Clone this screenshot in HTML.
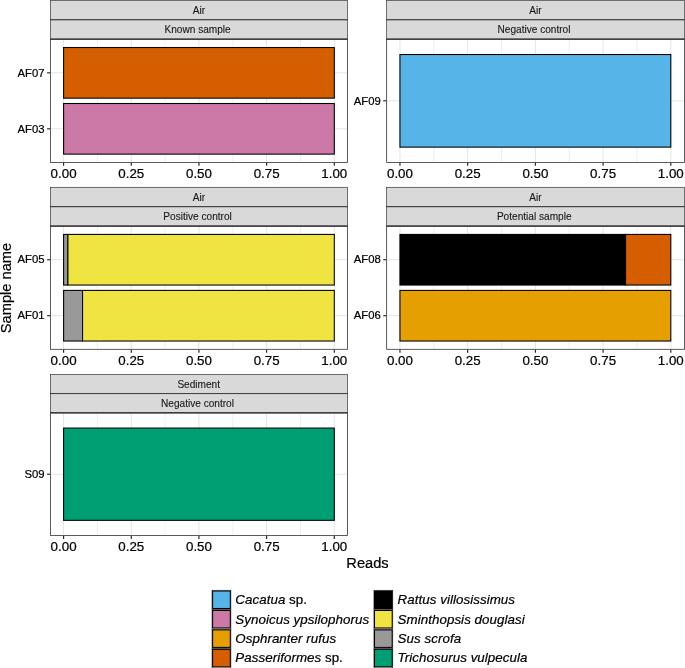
<!DOCTYPE html>
<html><head><meta charset="utf-8"><title>Reads per sample</title>
<style>html,body{margin:0;padding:0;background:#fff;overflow:hidden}svg{display:block}</style></head>
<body>
<svg width="685" height="668" viewBox="0 0 685 668" font-family="'Liberation Sans', sans-serif">
<rect width="685" height="668" fill="#fff"/>
<style>text{stroke:#000;stroke-width:0.22px;stroke-linejoin:round}text.st{stroke:#1a1a1a;stroke-width:0.12px}</style>
<rect x="50.50" y="0.40" width="297.00" height="19.43" fill="#D9D9D9" stroke="#333" stroke-width="0.68"/>
<text class="st" x="198.99" y="14.00" font-size="10.1" text-anchor="middle" fill="#1a1a1a">Air</text>
<rect x="50.50" y="19.82" width="297.00" height="19.43" fill="#D9D9D9" stroke="#333" stroke-width="0.68"/>
<text class="st" x="197.64" y="33.42" font-size="10.1" text-anchor="middle" fill="#1a1a1a">Known sample</text>
<rect x="50.50" y="39.25" width="297.00" height="123.15" fill="#fff"/>
<line x1="97.44" x2="97.44" y1="39.25" y2="162.40" stroke="#E6E6E6" stroke-width="0.65"/>
<line x1="165.11" x2="165.11" y1="39.25" y2="162.40" stroke="#E6E6E6" stroke-width="0.65"/>
<line x1="232.79" x2="232.79" y1="39.25" y2="162.40" stroke="#E6E6E6" stroke-width="0.65"/>
<line x1="300.46" x2="300.46" y1="39.25" y2="162.40" stroke="#E6E6E6" stroke-width="0.65"/>
<line x1="63.60" x2="63.60" y1="39.25" y2="162.40" stroke="#E4E4E4" stroke-width="1.0"/>
<line x1="131.28" x2="131.28" y1="39.25" y2="162.40" stroke="#E4E4E4" stroke-width="1.0"/>
<line x1="198.95" x2="198.95" y1="39.25" y2="162.40" stroke="#E4E4E4" stroke-width="1.0"/>
<line x1="266.62" x2="266.62" y1="39.25" y2="162.40" stroke="#E4E4E4" stroke-width="1.0"/>
<line x1="334.30" x2="334.30" y1="39.25" y2="162.40" stroke="#E4E4E4" stroke-width="1.0"/>
<line x1="50.50" x2="347.50" y1="72.84" y2="72.84" stroke="#E4E4E4" stroke-width="1.0"/>
<line x1="50.50" x2="347.50" y1="128.81" y2="128.81" stroke="#E4E4E4" stroke-width="1.0"/>
<rect x="63.60" y="47.52" width="270.70" height="50.63" fill="#D55E00" stroke="#000" stroke-width="1.07" stroke-linejoin="miter"/>
<line x1="47.10" x2="50.10" y1="72.84" y2="72.84" stroke="#222" stroke-width="1.15"/>
<text x="44.60" y="76.54" font-size="11.3" text-anchor="end" fill="#000">AF07</text>
<rect x="63.60" y="103.50" width="270.70" height="50.63" fill="#CC79A7" stroke="#000" stroke-width="1.07" stroke-linejoin="miter"/>
<line x1="47.10" x2="50.10" y1="128.81" y2="128.81" stroke="#222" stroke-width="1.15"/>
<text x="44.60" y="132.51" font-size="11.3" text-anchor="end" fill="#000">AF03</text>
<rect x="50.50" y="39.25" width="297.00" height="123.15" fill="none" stroke="#333" stroke-width="0.8"/>
<line x1="50.15" x2="347.85" y1="39.15" y2="39.15" stroke="#333" stroke-width="1.25"/>
<line x1="50.15" x2="347.85" y1="19.82" y2="19.82" stroke="#333" stroke-width="0.6"/>
<line x1="63.60" x2="63.60" y1="162.80" y2="165.80" stroke="#222" stroke-width="1.15"/>
<text x="63.60" y="178.15" font-size="13.33" text-anchor="middle" fill="#000">0.00</text>
<line x1="131.28" x2="131.28" y1="162.80" y2="165.80" stroke="#222" stroke-width="1.15"/>
<text x="131.28" y="178.15" font-size="13.33" text-anchor="middle" fill="#000">0.25</text>
<line x1="198.95" x2="198.95" y1="162.80" y2="165.80" stroke="#222" stroke-width="1.15"/>
<text x="198.95" y="178.15" font-size="13.33" text-anchor="middle" fill="#000">0.50</text>
<line x1="266.62" x2="266.62" y1="162.80" y2="165.80" stroke="#222" stroke-width="1.15"/>
<text x="266.62" y="178.15" font-size="13.33" text-anchor="middle" fill="#000">0.75</text>
<line x1="334.30" x2="334.30" y1="162.80" y2="165.80" stroke="#222" stroke-width="1.15"/>
<text x="334.30" y="178.15" font-size="13.33" text-anchor="middle" fill="#000">1.00</text>
<rect x="386.65" y="0.40" width="297.75" height="19.43" fill="#D9D9D9" stroke="#333" stroke-width="0.68"/>
<text class="st" x="535.52" y="14.00" font-size="10.1" text-anchor="middle" fill="#1a1a1a">Air</text>
<rect x="386.65" y="19.82" width="297.75" height="19.43" fill="#D9D9D9" stroke="#333" stroke-width="0.68"/>
<text class="st" x="534.00" y="33.42" font-size="10.1" text-anchor="middle" fill="#1a1a1a">Negative control</text>
<rect x="386.65" y="39.25" width="297.75" height="123.15" fill="#fff"/>
<line x1="433.81" x2="433.81" y1="39.25" y2="162.40" stroke="#E6E6E6" stroke-width="0.65"/>
<line x1="501.52" x2="501.52" y1="39.25" y2="162.40" stroke="#E6E6E6" stroke-width="0.65"/>
<line x1="569.23" x2="569.23" y1="39.25" y2="162.40" stroke="#E6E6E6" stroke-width="0.65"/>
<line x1="636.94" x2="636.94" y1="39.25" y2="162.40" stroke="#E6E6E6" stroke-width="0.65"/>
<line x1="399.95" x2="399.95" y1="39.25" y2="162.40" stroke="#E4E4E4" stroke-width="1.0"/>
<line x1="467.66" x2="467.66" y1="39.25" y2="162.40" stroke="#E4E4E4" stroke-width="1.0"/>
<line x1="535.38" x2="535.38" y1="39.25" y2="162.40" stroke="#E4E4E4" stroke-width="1.0"/>
<line x1="603.09" x2="603.09" y1="39.25" y2="162.40" stroke="#E4E4E4" stroke-width="1.0"/>
<line x1="670.80" x2="670.80" y1="39.25" y2="162.40" stroke="#E4E4E4" stroke-width="1.0"/>
<line x1="386.65" x2="684.40" y1="100.83" y2="100.83" stroke="#E4E4E4" stroke-width="1.0"/>
<rect x="399.95" y="54.52" width="270.85" height="92.61" fill="#56B4E9" stroke="#000" stroke-width="1.07" stroke-linejoin="miter"/>
<line x1="383.25" x2="386.25" y1="100.83" y2="100.83" stroke="#222" stroke-width="1.15"/>
<text x="380.75" y="104.53" font-size="11.3" text-anchor="end" fill="#000">AF09</text>
<rect x="386.65" y="39.25" width="297.75" height="123.15" fill="none" stroke="#333" stroke-width="0.8"/>
<line x1="386.30" x2="684.75" y1="39.15" y2="39.15" stroke="#333" stroke-width="1.25"/>
<line x1="386.30" x2="684.75" y1="19.82" y2="19.82" stroke="#333" stroke-width="0.6"/>
<line x1="399.95" x2="399.95" y1="162.80" y2="165.80" stroke="#222" stroke-width="1.15"/>
<text x="399.95" y="178.15" font-size="13.33" text-anchor="middle" fill="#000">0.00</text>
<line x1="467.66" x2="467.66" y1="162.80" y2="165.80" stroke="#222" stroke-width="1.15"/>
<text x="467.66" y="178.15" font-size="13.33" text-anchor="middle" fill="#000">0.25</text>
<line x1="535.38" x2="535.38" y1="162.80" y2="165.80" stroke="#222" stroke-width="1.15"/>
<text x="535.38" y="178.15" font-size="13.33" text-anchor="middle" fill="#000">0.50</text>
<line x1="603.09" x2="603.09" y1="162.80" y2="165.80" stroke="#222" stroke-width="1.15"/>
<text x="603.09" y="178.15" font-size="13.33" text-anchor="middle" fill="#000">0.75</text>
<line x1="670.80" x2="670.80" y1="162.80" y2="165.80" stroke="#222" stroke-width="1.15"/>
<text x="670.80" y="178.15" font-size="13.33" text-anchor="middle" fill="#000">1.00</text>
<rect x="50.50" y="187.30" width="297.00" height="19.43" fill="#D9D9D9" stroke="#333" stroke-width="0.68"/>
<text class="st" x="198.99" y="200.90" font-size="10.1" text-anchor="middle" fill="#1a1a1a">Air</text>
<rect x="50.50" y="206.73" width="297.00" height="19.43" fill="#D9D9D9" stroke="#333" stroke-width="0.68"/>
<text class="st" x="197.59" y="220.33" font-size="10.1" text-anchor="middle" fill="#1a1a1a">Positive control</text>
<rect x="50.50" y="226.15" width="297.00" height="123.15" fill="#fff"/>
<line x1="97.44" x2="97.44" y1="226.15" y2="349.30" stroke="#E6E6E6" stroke-width="0.65"/>
<line x1="165.11" x2="165.11" y1="226.15" y2="349.30" stroke="#E6E6E6" stroke-width="0.65"/>
<line x1="232.79" x2="232.79" y1="226.15" y2="349.30" stroke="#E6E6E6" stroke-width="0.65"/>
<line x1="300.46" x2="300.46" y1="226.15" y2="349.30" stroke="#E6E6E6" stroke-width="0.65"/>
<line x1="63.60" x2="63.60" y1="226.15" y2="349.30" stroke="#E4E4E4" stroke-width="1.0"/>
<line x1="131.28" x2="131.28" y1="226.15" y2="349.30" stroke="#E4E4E4" stroke-width="1.0"/>
<line x1="198.95" x2="198.95" y1="226.15" y2="349.30" stroke="#E4E4E4" stroke-width="1.0"/>
<line x1="266.62" x2="266.62" y1="226.15" y2="349.30" stroke="#E4E4E4" stroke-width="1.0"/>
<line x1="334.30" x2="334.30" y1="226.15" y2="349.30" stroke="#E4E4E4" stroke-width="1.0"/>
<line x1="50.50" x2="347.50" y1="259.74" y2="259.74" stroke="#E4E4E4" stroke-width="1.0"/>
<line x1="50.50" x2="347.50" y1="315.71" y2="315.71" stroke="#E4E4E4" stroke-width="1.0"/>
<rect x="63.60" y="234.42" width="4.33" height="50.63" fill="#999999" stroke="#000" stroke-width="1.07" stroke-linejoin="miter"/>
<rect x="67.93" y="234.42" width="266.37" height="50.63" fill="#F0E442" stroke="#000" stroke-width="1.07" stroke-linejoin="miter"/>
<line x1="47.10" x2="50.10" y1="259.74" y2="259.74" stroke="#222" stroke-width="1.15"/>
<text x="44.60" y="263.44" font-size="11.3" text-anchor="end" fill="#000">AF05</text>
<rect x="63.60" y="290.40" width="18.95" height="50.63" fill="#999999" stroke="#000" stroke-width="1.07" stroke-linejoin="miter"/>
<rect x="82.55" y="290.40" width="251.75" height="50.63" fill="#F0E442" stroke="#000" stroke-width="1.07" stroke-linejoin="miter"/>
<line x1="47.10" x2="50.10" y1="315.71" y2="315.71" stroke="#222" stroke-width="1.15"/>
<text x="44.60" y="319.41" font-size="11.3" text-anchor="end" fill="#000">AF01</text>
<rect x="50.50" y="226.15" width="297.00" height="123.15" fill="none" stroke="#333" stroke-width="0.8"/>
<line x1="50.15" x2="347.85" y1="226.05" y2="226.05" stroke="#333" stroke-width="1.25"/>
<line x1="50.15" x2="347.85" y1="206.73" y2="206.73" stroke="#333" stroke-width="0.6"/>
<line x1="63.60" x2="63.60" y1="349.70" y2="352.70" stroke="#222" stroke-width="1.15"/>
<text x="63.60" y="365.05" font-size="13.33" text-anchor="middle" fill="#000">0.00</text>
<line x1="131.28" x2="131.28" y1="349.70" y2="352.70" stroke="#222" stroke-width="1.15"/>
<text x="131.28" y="365.05" font-size="13.33" text-anchor="middle" fill="#000">0.25</text>
<line x1="198.95" x2="198.95" y1="349.70" y2="352.70" stroke="#222" stroke-width="1.15"/>
<text x="198.95" y="365.05" font-size="13.33" text-anchor="middle" fill="#000">0.50</text>
<line x1="266.62" x2="266.62" y1="349.70" y2="352.70" stroke="#222" stroke-width="1.15"/>
<text x="266.62" y="365.05" font-size="13.33" text-anchor="middle" fill="#000">0.75</text>
<line x1="334.30" x2="334.30" y1="349.70" y2="352.70" stroke="#222" stroke-width="1.15"/>
<text x="334.30" y="365.05" font-size="13.33" text-anchor="middle" fill="#000">1.00</text>
<rect x="386.65" y="187.30" width="297.75" height="19.43" fill="#D9D9D9" stroke="#333" stroke-width="0.68"/>
<text class="st" x="535.52" y="200.90" font-size="10.1" text-anchor="middle" fill="#1a1a1a">Air</text>
<rect x="386.65" y="206.73" width="297.75" height="19.43" fill="#D9D9D9" stroke="#333" stroke-width="0.68"/>
<text class="st" x="534.21" y="220.33" font-size="10.1" text-anchor="middle" fill="#1a1a1a">Potential sample</text>
<rect x="386.65" y="226.15" width="297.75" height="123.15" fill="#fff"/>
<line x1="433.81" x2="433.81" y1="226.15" y2="349.30" stroke="#E6E6E6" stroke-width="0.65"/>
<line x1="501.52" x2="501.52" y1="226.15" y2="349.30" stroke="#E6E6E6" stroke-width="0.65"/>
<line x1="569.23" x2="569.23" y1="226.15" y2="349.30" stroke="#E6E6E6" stroke-width="0.65"/>
<line x1="636.94" x2="636.94" y1="226.15" y2="349.30" stroke="#E6E6E6" stroke-width="0.65"/>
<line x1="399.95" x2="399.95" y1="226.15" y2="349.30" stroke="#E4E4E4" stroke-width="1.0"/>
<line x1="467.66" x2="467.66" y1="226.15" y2="349.30" stroke="#E4E4E4" stroke-width="1.0"/>
<line x1="535.38" x2="535.38" y1="226.15" y2="349.30" stroke="#E4E4E4" stroke-width="1.0"/>
<line x1="603.09" x2="603.09" y1="226.15" y2="349.30" stroke="#E4E4E4" stroke-width="1.0"/>
<line x1="670.80" x2="670.80" y1="226.15" y2="349.30" stroke="#E4E4E4" stroke-width="1.0"/>
<line x1="386.65" x2="684.40" y1="259.74" y2="259.74" stroke="#E4E4E4" stroke-width="1.0"/>
<line x1="386.65" x2="684.40" y1="315.71" y2="315.71" stroke="#E4E4E4" stroke-width="1.0"/>
<rect x="399.95" y="234.42" width="225.62" height="50.63" fill="#000000" stroke="#000" stroke-width="1.07" stroke-linejoin="miter"/>
<rect x="625.57" y="234.42" width="45.23" height="50.63" fill="#D55E00" stroke="#000" stroke-width="1.07" stroke-linejoin="miter"/>
<line x1="383.25" x2="386.25" y1="259.74" y2="259.74" stroke="#222" stroke-width="1.15"/>
<text x="380.75" y="263.44" font-size="11.3" text-anchor="end" fill="#000">AF08</text>
<rect x="399.95" y="290.40" width="270.85" height="50.63" fill="#E69F00" stroke="#000" stroke-width="1.07" stroke-linejoin="miter"/>
<line x1="383.25" x2="386.25" y1="315.71" y2="315.71" stroke="#222" stroke-width="1.15"/>
<text x="380.75" y="319.41" font-size="11.3" text-anchor="end" fill="#000">AF06</text>
<rect x="386.65" y="226.15" width="297.75" height="123.15" fill="none" stroke="#333" stroke-width="0.8"/>
<line x1="386.30" x2="684.75" y1="226.05" y2="226.05" stroke="#333" stroke-width="1.25"/>
<line x1="386.30" x2="684.75" y1="206.73" y2="206.73" stroke="#333" stroke-width="0.6"/>
<line x1="399.95" x2="399.95" y1="349.70" y2="352.70" stroke="#222" stroke-width="1.15"/>
<text x="399.95" y="365.05" font-size="13.33" text-anchor="middle" fill="#000">0.00</text>
<line x1="467.66" x2="467.66" y1="349.70" y2="352.70" stroke="#222" stroke-width="1.15"/>
<text x="467.66" y="365.05" font-size="13.33" text-anchor="middle" fill="#000">0.25</text>
<line x1="535.38" x2="535.38" y1="349.70" y2="352.70" stroke="#222" stroke-width="1.15"/>
<text x="535.38" y="365.05" font-size="13.33" text-anchor="middle" fill="#000">0.50</text>
<line x1="603.09" x2="603.09" y1="349.70" y2="352.70" stroke="#222" stroke-width="1.15"/>
<text x="603.09" y="365.05" font-size="13.33" text-anchor="middle" fill="#000">0.75</text>
<line x1="670.80" x2="670.80" y1="349.70" y2="352.70" stroke="#222" stroke-width="1.15"/>
<text x="670.80" y="365.05" font-size="13.33" text-anchor="middle" fill="#000">1.00</text>
<rect x="50.50" y="374.35" width="297.00" height="19.25" fill="#D9D9D9" stroke="#333" stroke-width="0.68"/>
<text class="st" x="198.73" y="387.95" font-size="10.1" text-anchor="middle" fill="#1a1a1a">Sediment</text>
<rect x="50.50" y="393.60" width="297.00" height="19.25" fill="#D9D9D9" stroke="#333" stroke-width="0.68"/>
<text class="st" x="197.48" y="407.20" font-size="10.1" text-anchor="middle" fill="#1a1a1a">Negative control</text>
<rect x="50.50" y="412.85" width="297.00" height="122.70" fill="#fff"/>
<line x1="97.44" x2="97.44" y1="412.85" y2="535.55" stroke="#E6E6E6" stroke-width="0.65"/>
<line x1="165.11" x2="165.11" y1="412.85" y2="535.55" stroke="#E6E6E6" stroke-width="0.65"/>
<line x1="232.79" x2="232.79" y1="412.85" y2="535.55" stroke="#E6E6E6" stroke-width="0.65"/>
<line x1="300.46" x2="300.46" y1="412.85" y2="535.55" stroke="#E6E6E6" stroke-width="0.65"/>
<line x1="63.60" x2="63.60" y1="412.85" y2="535.55" stroke="#E4E4E4" stroke-width="1.0"/>
<line x1="131.28" x2="131.28" y1="412.85" y2="535.55" stroke="#E4E4E4" stroke-width="1.0"/>
<line x1="198.95" x2="198.95" y1="412.85" y2="535.55" stroke="#E4E4E4" stroke-width="1.0"/>
<line x1="266.62" x2="266.62" y1="412.85" y2="535.55" stroke="#E4E4E4" stroke-width="1.0"/>
<line x1="334.30" x2="334.30" y1="412.85" y2="535.55" stroke="#E4E4E4" stroke-width="1.0"/>
<line x1="50.50" x2="347.50" y1="474.20" y2="474.20" stroke="#E4E4E4" stroke-width="1.0"/>
<rect x="63.60" y="428.06" width="270.70" height="92.28" fill="#009E73" stroke="#000" stroke-width="1.07" stroke-linejoin="miter"/>
<line x1="47.10" x2="50.10" y1="474.20" y2="474.20" stroke="#222" stroke-width="1.15"/>
<text x="44.60" y="477.90" font-size="11.3" text-anchor="end" fill="#000">S09</text>
<rect x="50.50" y="412.85" width="297.00" height="122.70" fill="none" stroke="#333" stroke-width="0.8"/>
<line x1="50.15" x2="347.85" y1="412.75" y2="412.75" stroke="#333" stroke-width="1.25"/>
<line x1="50.15" x2="347.85" y1="393.60" y2="393.60" stroke="#333" stroke-width="0.6"/>
<line x1="63.60" x2="63.60" y1="535.95" y2="538.95" stroke="#222" stroke-width="1.15"/>
<text x="63.60" y="551.30" font-size="13.33" text-anchor="middle" fill="#000">0.00</text>
<line x1="131.28" x2="131.28" y1="535.95" y2="538.95" stroke="#222" stroke-width="1.15"/>
<text x="131.28" y="551.30" font-size="13.33" text-anchor="middle" fill="#000">0.25</text>
<line x1="198.95" x2="198.95" y1="535.95" y2="538.95" stroke="#222" stroke-width="1.15"/>
<text x="198.95" y="551.30" font-size="13.33" text-anchor="middle" fill="#000">0.50</text>
<line x1="266.62" x2="266.62" y1="535.95" y2="538.95" stroke="#222" stroke-width="1.15"/>
<text x="266.62" y="551.30" font-size="13.33" text-anchor="middle" fill="#000">0.75</text>
<line x1="334.30" x2="334.30" y1="535.95" y2="538.95" stroke="#222" stroke-width="1.15"/>
<text x="334.30" y="551.30" font-size="13.33" text-anchor="middle" fill="#000">1.00</text>
<text x="367.5" y="568.1" font-size="14.67" text-anchor="middle" fill="#000">Reads</text>
<text transform="translate(11.4,288.0) rotate(-90)" font-size="14.67" text-anchor="middle" fill="#000">Sample name</text>
<rect x="212.00" y="590.25" width="18.9" height="19.45" fill="#fff" stroke="#333" stroke-width="0.6"/>
<rect x="212.00" y="609.70" width="18.9" height="19.45" fill="#fff" stroke="#333" stroke-width="0.6"/>
<rect x="212.00" y="629.15" width="18.9" height="19.45" fill="#fff" stroke="#333" stroke-width="0.6"/>
<rect x="212.00" y="648.60" width="18.9" height="19.45" fill="#fff" stroke="#333" stroke-width="0.6"/>
<rect x="212.60" y="591.00" width="17.7" height="17.5" fill="#56B4E9" stroke="#000" stroke-width="1.05"/>
<text x="235.30" y="604.10" font-size="13.33" fill="#000" xml:space="preserve"><tspan font-style="italic" letter-spacing="0.06">Cacatua</tspan> sp.</text>
<rect x="212.60" y="610.45" width="17.7" height="17.5" fill="#CC79A7" stroke="#000" stroke-width="1.05"/>
<text x="235.30" y="623.50" font-size="13.33" fill="#000" xml:space="preserve"><tspan font-style="italic" letter-spacing="0.06">Synoicus ypsilophorus</tspan></text>
<rect x="212.60" y="629.90" width="17.7" height="17.5" fill="#E69F00" stroke="#000" stroke-width="1.05"/>
<text x="235.30" y="642.90" font-size="13.33" fill="#000" xml:space="preserve"><tspan font-style="italic" letter-spacing="0.06">Osphranter rufus</tspan></text>
<rect x="212.60" y="649.35" width="17.7" height="17.5" fill="#D55E00" stroke="#000" stroke-width="1.05"/>
<text x="235.30" y="662.30" font-size="13.33" fill="#000" xml:space="preserve"><tspan font-style="italic" letter-spacing="0.06">Passeriformes</tspan> sp.</text>
<rect x="373.90" y="590.25" width="18.9" height="19.45" fill="#fff" stroke="#333" stroke-width="0.6"/>
<rect x="373.90" y="609.70" width="18.9" height="19.45" fill="#fff" stroke="#333" stroke-width="0.6"/>
<rect x="373.90" y="629.15" width="18.9" height="19.45" fill="#fff" stroke="#333" stroke-width="0.6"/>
<rect x="373.90" y="648.60" width="18.9" height="19.45" fill="#fff" stroke="#333" stroke-width="0.6"/>
<rect x="374.50" y="591.00" width="17.7" height="17.5" fill="#000000" stroke="#000" stroke-width="1.05"/>
<text x="397.60" y="604.10" font-size="13.33" fill="#000" xml:space="preserve"><tspan font-style="italic" letter-spacing="0.06">Rattus villosissimus</tspan></text>
<rect x="374.50" y="610.45" width="17.7" height="17.5" fill="#F0E442" stroke="#000" stroke-width="1.05"/>
<text x="397.60" y="623.50" font-size="13.33" fill="#000" xml:space="preserve"><tspan font-style="italic" letter-spacing="0.06">Sminthopsis douglasi</tspan></text>
<rect x="374.50" y="629.90" width="17.7" height="17.5" fill="#999999" stroke="#000" stroke-width="1.05"/>
<text x="397.60" y="642.90" font-size="13.33" fill="#000" xml:space="preserve"><tspan font-style="italic" letter-spacing="0.06">Sus scrofa</tspan></text>
<rect x="374.50" y="649.35" width="17.7" height="17.5" fill="#009E73" stroke="#000" stroke-width="1.05"/>
<text x="397.60" y="662.30" font-size="13.33" fill="#000" xml:space="preserve"><tspan font-style="italic" letter-spacing="0.06">Trichosurus vulpecula</tspan></text>
</svg>
</body></html>
